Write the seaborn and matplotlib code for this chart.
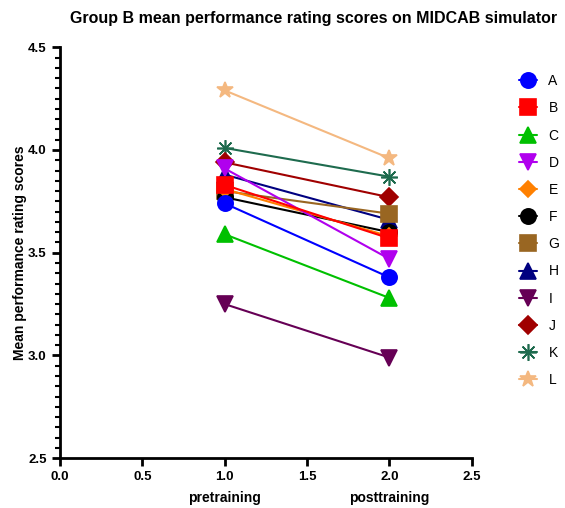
import numpy as np
import pandas as pd
import matplotlib
matplotlib.use("Agg")
import matplotlib.pyplot as plt
import seaborn as sns
from matplotlib.ticker import MultipleLocator

# ---- data ----
subjects = ["A", "B", "C", "D", "E", "F", "G", "H", "I", "J", "K", "L"]
timepoints = [1.0, 2.0]
pretraining = [3.74, 3.83, 3.59, 3.91, 3.81, 3.77, 3.80, 3.88, 3.25, 3.94, 4.01, 4.29]
posttraining = [3.38, 3.57, 3.28, 3.47, 3.58, 3.60, 3.69, 3.66, 2.99, 3.77, 3.87, 3.96]

colors = ["#0000ff", "#ff0000", "#00c000", "#b000ee", "#ff8000", "#000000",
          "#996622", "#000080", "#660055", "#a00000", "#1e6b4e", "#f4b880"]
markers = ["o", "s", "^", "v", "D", "o", "s", "^", "v", "D", (8, 2, 0), "*"]
msizes = [11, 11, 11, 11, 8, 11, 11, 11, 12, 9, 12, 12]

df = pd.DataFrame({
    "subject": np.repeat(subjects, 2),
    "x": timepoints * len(subjects),
    "score": np.ravel(np.column_stack([pretraining, posttraining])),
})

sns.set_style("ticks")
plt.rcParams["font.family"] = ["Liberation Sans", "DejaVu Sans"]
plt.rcParams.update({"text.color": "black", "axes.labelcolor": "black",
                     "xtick.color": "black", "ytick.color": "black",
                     "axes.edgecolor": "black"})

fig = plt.figure(figsize=(5.65, 5.08), dpi=100)
ax = fig.add_axes([0.106, 0.098, 0.729, 0.809])

# draw L first so A ends up on top
for i in reversed(range(len(subjects))):
    sub = df[df["subject"] == subjects[i]]
    sns.lineplot(data=sub, x="x", y="score", ax=ax, color=colors[i],
                 marker=markers[i], markersize=msizes[i], linewidth=1.5,
                 markeredgecolor=colors[i], markeredgewidth=1.2,
                 label=subjects[i], zorder=3 + (len(subjects) - i) * 0.01)

ax.set_xlim(0, 2.5)
ax.set_ylim(2.5, 4.5)
ax.xaxis.set_major_locator(MultipleLocator(0.5))
ax.yaxis.set_major_locator(MultipleLocator(0.5))
ax.yaxis.set_minor_locator(MultipleLocator(0.05))
ax.xaxis.set_major_formatter(plt.FormatStrFormatter("%.1f"))
ax.yaxis.set_major_formatter(plt.FormatStrFormatter("%.1f"))

for side in ["top", "right"]:
    ax.spines[side].set_visible(False)
for side in ["left", "bottom"]:
    ax.spines[side].set_linewidth(2)
ax.tick_params(which="major", width=2, length=6, labelsize=9.5)
ax.tick_params(which="minor", width=1.5, length=3.5)
for lab in ax.get_xticklabels() + ax.get_yticklabels():
    lab.set_fontweight("bold")

ax.set_xlabel("")
ax.set_ylabel("Mean performance rating scores", fontsize=10, fontweight="bold", labelpad=1)
fig.text(314 / 565, 1 - 18 / 508, "Group B mean performance rating scores on MIDCAB simulator",
         ha="center", va="center", fontsize=11.5, fontweight="bold")

# group names under the tick labels
for xv, name in zip(timepoints, ["pretraining", "posttraining"]):
    ax.text(xv, -0.08, name, transform=ax.get_xaxis_transform(),
            ha="center", va="top", fontsize=10, fontweight="bold")

# legend in A..L order, outside right
handles, labels = ax.get_legend_handles_labels()
order = [labels.index(s) for s in subjects]
ax.legend([handles[k] for k in order], subjects, loc="upper left",
          bbox_to_anchor=(1.085, 0.965), frameon=False, fontsize=10,
          handlelength=1.3, labelspacing=0.95, handletextpad=0.8)

fig.savefig("out.png", dpi=100)
